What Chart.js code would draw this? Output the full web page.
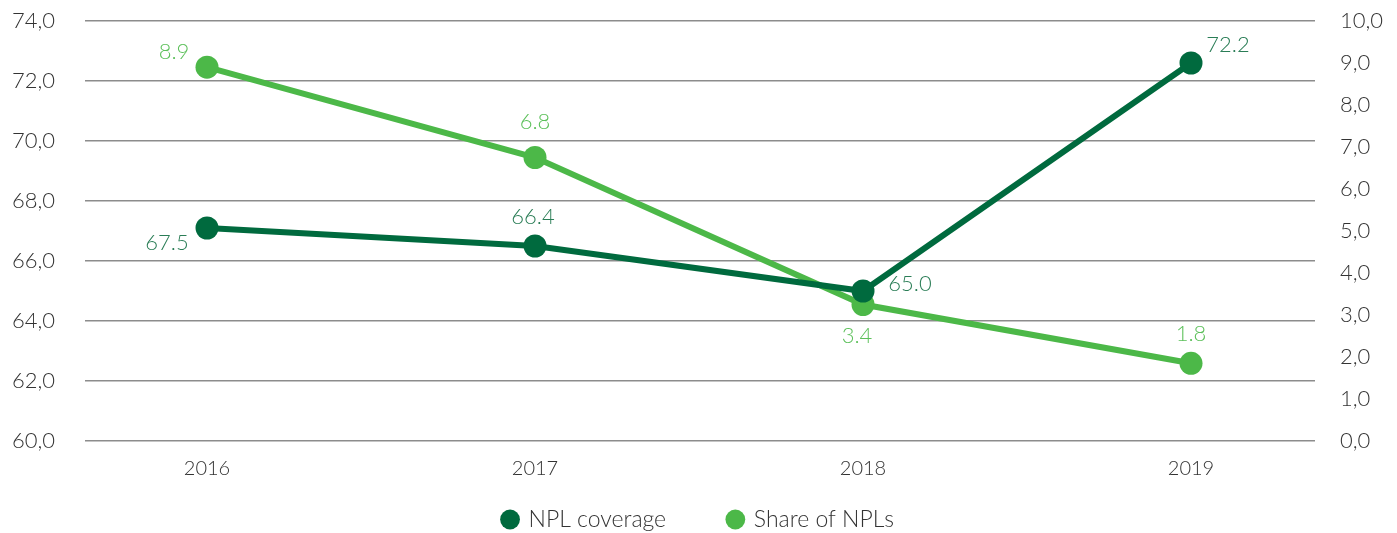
<!DOCTYPE html>
<html>
<head>
<meta charset="utf-8">
<script src="https://cdn.jsdelivr.net/npm/chart.js@4/dist/chart.umd.min.js"></script>
<style>
  html, body { margin: 0; padding: 0; background: #fff; }
  #wrap { width: 1397px; height: 533px; position: relative; }
</style>
</head>
<body>
<div id="wrap"><canvas id="myChart"></canvas></div>
<script>
    let years = [2016, 2017, 2018, 2019];
    let coverage = [67.1, 66.5, 65.0, 72.6];
    let coverageLabels = ['67.5', '66.4', '65.0', '72.2'];
    let share = [8.9, 6.75, 3.25, 1.85];
    let shareLabels = ['8.9', '6.8', '3.4', '1.8'];

    let darkGreen = '#006a3e';
    let lightGreen = '#4cb848';
    let fontFamily = "'Lato', 'Open Sans', sans-serif";

    // where each value label sits relative to its point
    let labelOffsets = [
        [[-40, 15], [-2, -29], [47, -7], [37, -18]],
        [[-33, -15], [0, -36], [-6, 31], [0, -29]]
    ];
    let labelColors = ['#2a7d56', '#5cc05a'];

    let valueLabels = {
        id: 'valueLabels',
        afterDatasetsDraw(chart) {
            let ctx = chart.ctx;
            ctx.save();
            ctx.font = "300 22px " + fontFamily;
            ctx.textAlign = 'center';
            ctx.textBaseline = 'middle';
            chart.data.datasets.forEach((ds, i) => {
                chart.getDatasetMeta(i).data.forEach((pt, j) => {
                    ctx.fillStyle = labelColors[i];
                    ctx.fillText(ds.valueText[j], pt.x + labelOffsets[i][j][0], pt.y + labelOffsets[i][j][1]);
                });
            });
            ctx.restore();
        }
    };

    let toPoints = (vals) => years.map((y, i) => ({x: y, y: vals[i]}));
    let comma = (v) => v.toFixed(1).replace('.', ',');
    // fixed axis box, no extra top/bottom padding from tick padding
    let fitY = (w) => (scale) => { scale.width = w; scale.paddingTop = 0; scale.paddingBottom = 0; };

    let ctx = document.getElementById('myChart').getContext('2d');
    let myChart = new Chart(ctx, {
        type: 'line',
        data: {
            datasets: [{
                label: 'NPL coverage',
                data: toPoints(coverage),
                valueText: coverageLabels,
                yAxisID: 'y',
                borderColor: darkGreen,
                backgroundColor: darkGreen,
                borderWidth: 6,
                pointRadius: 11.5,
                pointHoverRadius: 11.5,
                pointBorderWidth: 0,
                fill: false,
                tension: 0
            }, {
                label: 'Share of NPLs',
                data: toPoints(share),
                valueText: shareLabels,
                yAxisID: 'y1',
                borderColor: lightGreen,
                backgroundColor: lightGreen,
                borderWidth: 6,
                pointRadius: 11.5,
                pointHoverRadius: 11.5,
                pointBorderWidth: 0,
                fill: false,
                tension: 0
            }]
        },
        options: {
            responsive: true,
            maintainAspectRatio: false,
            animation: false,
            layout: { padding: { left: 0, right: 0, top: 21, bottom: 0 } },
            plugins: {
                tooltip: { enabled: false },
                legend: {
                    position: 'bottom',
                    maxHeight: 56,
                    labels: {
                        usePointStyle: true,
                        pointStyle: 'circle',
                        boxWidth: 14,
                        boxHeight: 14,
                        padding: 31,
                        color: '#333',
                        font: { family: fontFamily, size: 23, weight: 300 },
                        // wider gap between the two items than the vertical padding allows
                        generateLabels: (chart) => {
                            let items = Chart.defaults.plugins.legend.labels.generateLabels(chart);
                            items.forEach((it, i) => { if (i < items.length - 1) it.text += '     '; });
                            return items;
                        }
                    }
                }
            },
            scales: {
                x: {
                    type: 'linear',
                    min: 2015.628,
                    max: 2019.378,
                    afterBuildTicks: (scale) => { scale.ticks = years.map(v => ({value: v})); },
                    afterFit: (scale) => { scale.height = 36; },
                    grid: { display: false },
                    border: { display: false },
                    ticks: {
                        color: '#333',
                        padding: 8,
                        font: { family: fontFamily, size: 20, weight: 300 },
                        callback: (v) => String(v)
                    }
                },
                y: {
                    position: 'left',
                    min: 60,
                    max: 74,
                    afterFit: fitY(85),
                    ticks: {
                        stepSize: 2,
                        color: '#333',
                        padding: 30,
                        font: { family: fontFamily, size: 22, weight: 300 },
                        callback: comma
                    },
                    grid: { color: '#8c8c8c', lineWidth: 1.5, drawTicks: false },
                    border: { display: false }
                },
                y1: {
                    position: 'right',
                    min: 0,
                    max: 10,
                    afterFit: fitY(82),
                    ticks: {
                        stepSize: 1,
                        color: '#333',
                        padding: 25,
                        font: { family: fontFamily, size: 22, weight: 300 },
                        callback: comma
                    },
                    grid: { display: false, drawTicks: false },
                    border: { display: false }
                }
            }
        },
        plugins: [valueLabels]
    });
</script>
</body>
</html>
